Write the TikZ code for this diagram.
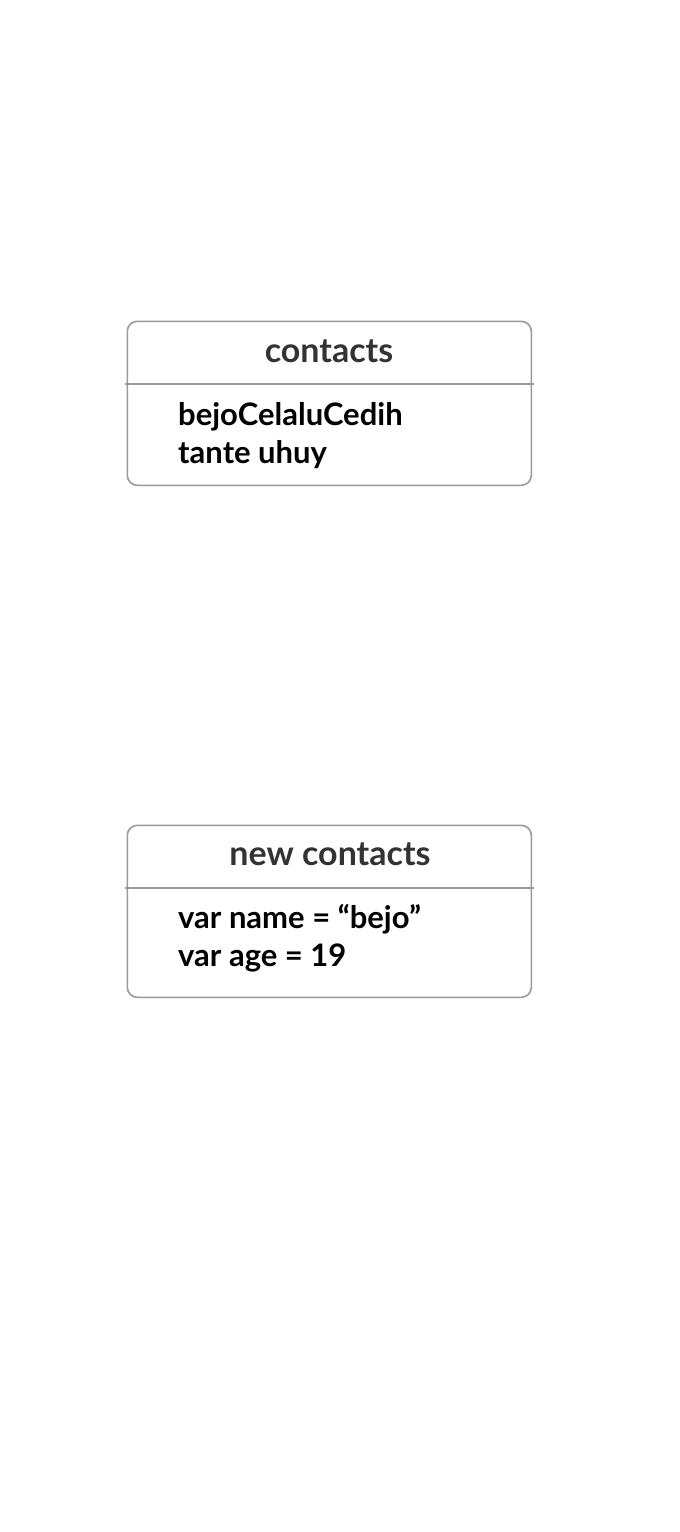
\documentclass[tikz,border=0pt]{standalone}
\usepackage{fontspec}
\setmainfont{Lato}
\begin{document}
\begin{tikzpicture}[x=1pt,y=-1pt,
  boxshape/.style={draw=black!40, line width=1.6pt, rounded corners=10pt, inner sep=0pt, anchor=north west},
  divider/.style={draw=black!40, line width=1.4pt},
  titletext/.style={font=\fontsize{34}{40}\selectfont\bfseries, text=black!80, anchor=base, inner sep=0pt},
  bodytext/.style={font=\fontsize{31}{36}\selectfont\bfseries, text=black, anchor=base west, inner sep=0pt}]
\useasboundingbox (0,0) rectangle (680,1532);
% box 1
\node[boxshape, minimum width=404pt, minimum height=164pt] (b1) at (126.5,320.5) {};
\coordinate (d1l) at (125,384);
\coordinate (d1r) at (534,384);
\draw[divider] (d1l) -- (d1r);
\node[titletext] (t1) at (329,362) {contacts};
\node[bodytext] (l1a) at (178,425) {bejoCelaluCedih};
\node[bodytext] (l1b) at (178,463) {tante uhuy};
% box 2
\node[boxshape, minimum width=404pt, minimum height=172pt] (b2) at (126.5,824.5) {};
\coordinate (d2l) at (125,888);
\coordinate (d2r) at (534,888);
\draw[divider] (d2l) -- (d2r);
\node[titletext] (t2) at (330,865) {new contacts};
\node[bodytext] (l2a) at (178,928) {var name = “bejo”};
\node[bodytext] (l2b) at (178,966) {var age = 19};
\end{tikzpicture}
\end{document}
